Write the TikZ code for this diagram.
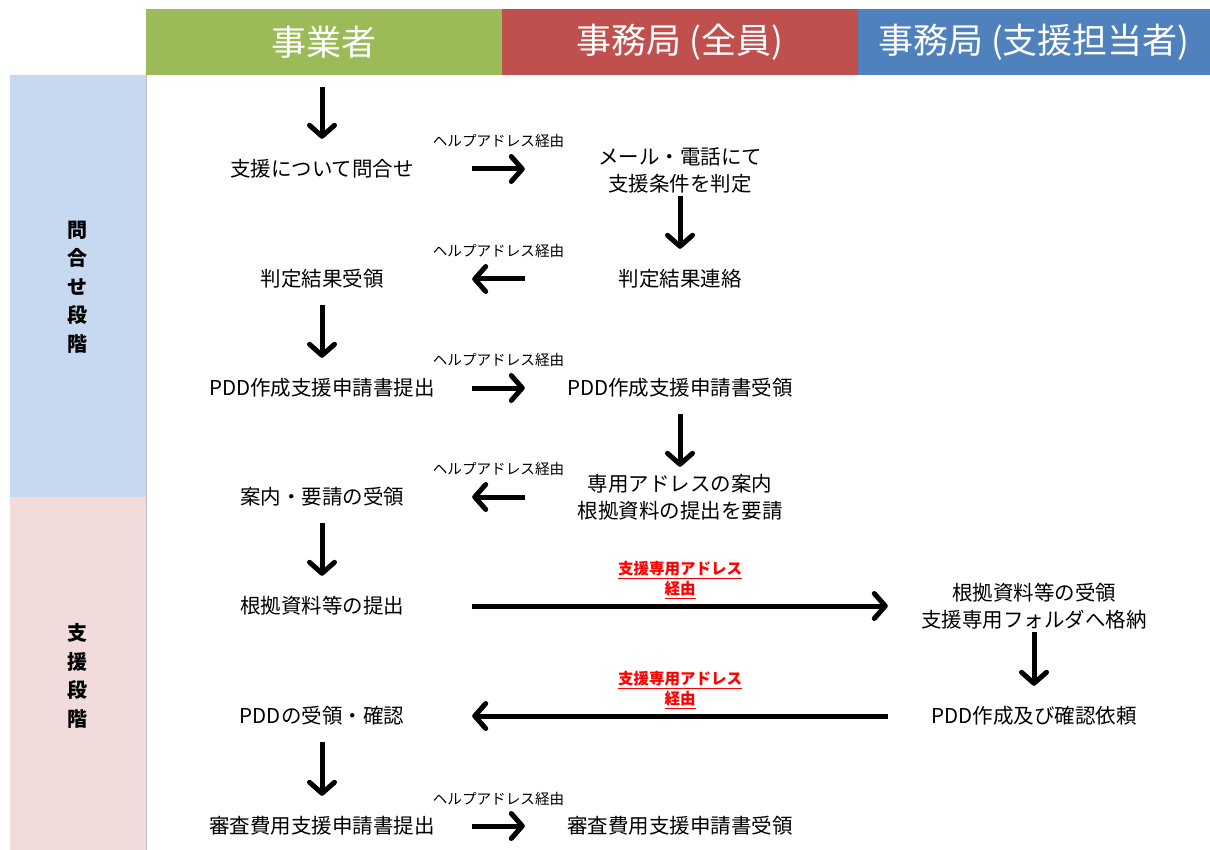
\documentclass[tikz,border=0pt]{standalone}
\usepackage{fontspec}
\setmainfont{Noto Sans CJK JP}
\usetikzlibrary{arrows.meta}
\definecolor{hgreen}{HTML}{9BBB59}
\definecolor{hred}{HTML}{C0504D}
\definecolor{hblue}{HTML}{4F81BD}
\definecolor{bandblue}{HTML}{C6D9F1}
\definecolor{bandpink}{HTML}{F2DCDB}
\definecolor{bandline}{HTML}{BFBFBF}
\begin{document}
\begin{tikzpicture}[x=1pt,y=-1pt,
  hdr/.style={font=\fontsize{35}{40}\selectfont, text=white, minimum height=66pt, inner sep=0pt},
  txt/.style={font=\fontsize{20.5}{27}\selectfont, align=center, inner sep=0pt, minimum height=52pt},
  colA/.style={txt, minimum width=300pt},
  colB/.style={txt, minimum width=310pt},
  colC/.style={txt, minimum width=292pt},
  via/.style={font=\fontsize{14.6}{16}\selectfont, inner sep=0pt},
  redvia/.style={font=\fontsize{15.5}{20}\bfseries\selectfont, text=red, align=center, inner sep=0pt},
  stage/.style={font=\fontsize{20}{28.5}\bfseries\selectfont, align=center, inner sep=0pt},
  flow/.style={line width=5pt, -{Straight Barb[length=11pt,width=25pt,round]}},
  vflow/.style={flow, shorten >=4pt}]
\useasboundingbox (0,0) rectangle (1210,850);
\fill[white] (0,0) rectangle (1210,850);
% stage bands
\fill[bandblue] (10,75) rectangle (146,497);
\fill[bandpink] (10,497) rectangle (146,850);
\draw[bandline, line width=0.8pt] (146,75) -- (146,850);
\node[stage] (st1) at (77,287) {問\\合\\せ\\段\\階};
\node[stage] (st2) at (77,676) {支\\援\\段\\階};
% headers
\node[hdr, fill=hgreen, minimum width=356pt] (h1) at (324,42) {事業者};
\node[hdr, fill=hred, minimum width=356pt] (h2) at (680,42) {事務局 (全員)};
\node[hdr, fill=hblue, minimum width=352pt] (h3) at (1034,42) {事務局 (支援担当者)};
% column A
\node[colA] (a1) at (322,169) {支援について問合せ};
\node[colA] (a2) at (322,279) {判定結果受領};
\node[colA] (a3) at (322,388) {PDD作成支援申請書提出};
\node[colA] (a4) at (322,497) {案内・要請の受領};
\node[colA] (a5) at (322,606) {根拠資料等の提出};
\node[colA] (a6) at (322,716) {PDDの受領・確認};
\node[colA] (a7) at (322,826) {審査費用支援申請書提出};
% column B
\node[colB] (b1) at (680,170) {メール・電話にて\\支援条件を判定};
\node[colB] (b2) at (680,279) {判定結果連絡};
\node[colB] (b3) at (680,388) {PDD作成支援申請書受領};
\node[colB] (b4) at (680,497) {専用アドレスの案内\\根拠資料の提出を要請};
\node[colB] (b7) at (680,826) {審査費用支援申請書受領};
% column C
\node[colC] (c5) at (1034,606) {根拠資料等の受領\\支援専用フォルダへ格納};
\node[colC] (c6) at (1034,716) {PDD作成及び確認依頼};
% vertical arrows
\draw[flow, shorten <=12pt, shorten >=4pt] (h1.south -| a1) -- (a1.north);
\draw[vflow] (b1) -- (b2);
\draw[vflow] (a2) -- (a3);
\draw[vflow] (b3) -- (b4);
\draw[vflow] (a4) -- (a5);
\draw[vflow] (c5) -- (c6);
\draw[vflow] (a6) -- (a7);
% horizontal arrows
\draw[flow] (a1.east) -- (b1.west |- a1.east) node[midway, yshift=28pt, via] {ヘルプアドレス経由};
\draw[flow] (b2.west) -- (a2.east) node[midway, yshift=28pt, via] {ヘルプアドレス経由};
\draw[flow] (a3.east) -- (b3.west) node[midway, yshift=28pt, via] {ヘルプアドレス経由};
\draw[flow] (b4.west) -- (a4.east) node[midway, yshift=28pt, via] {ヘルプアドレス経由};
\draw[flow] (a5.east) -- (c5.west) node[midway, yshift=26pt, redvia] {\underline{支援専用アドレス}\\\underline{経由}};
\draw[flow] (c6.west) -- (a6.east) node[midway, yshift=26pt, redvia] {\underline{支援専用アドレス}\\\underline{経由}};
\draw[flow] (a7.east) -- (b7.west) node[midway, yshift=27pt, via] {ヘルプアドレス経由};
\end{tikzpicture}
\end{document}
